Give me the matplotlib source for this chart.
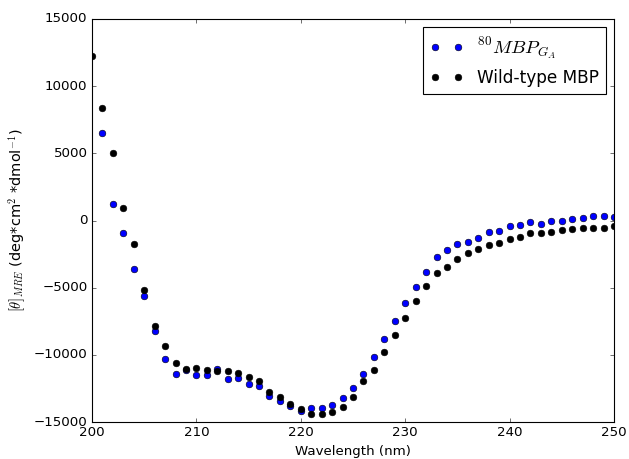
import matplotlib
matplotlib.use("Agg")
import matplotlib.pyplot as plt

plt.style.use("classic")

# Wavelengths (nm)
wl_mut = list(range(201, 251))
wl_wt = list(range(200, 251))

# 80MBP_GA mean residue ellipticity
theta_mut = [6490, 1250, -950, -3630, -5600, -8250, -10290, -11450, -11100,
             -11500, -11500, -11040, -11820, -11700, -12150, -12350, -13070,
             -13420, -13810, -14160, -13960, -13980, -13740, -13220, -12500,
             -11430, -10190, -8850, -7480, -6120, -4950, -3810, -2700, -2200,
             -1750, -1580, -1330, -890, -770, -400, -340, -90, -260, -60, -60,
             130, 210, 340, 340, 280]

# Wild-type MBP mean residue ellipticity
theta_wt = [12270, 8360, 5000, 950, -1750, -5180, -7860, -9350, -10590, -11060,
            -10980, -11130, -11210, -11180, -11360, -11650, -11950, -12790,
            -13120, -13690, -14040, -14390, -14390, -14260, -13860, -13140,
            -11970, -11130, -9770, -8500, -7240, -6020, -4880, -3910, -3440,
            -2870, -2440, -2140, -1800, -1680, -1400, -1210, -950, -950, -830,
            -710, -630, -540, -540, -540, -390]

fig = plt.figure(figsize=(629 / 80, 459 / 80), dpi=80)
ax = fig.add_axes([92 / 629, 1 - 422 / 459, 522 / 629, 403 / 459])

ax.plot(wl_mut, theta_mut, "o", color="b", label=r"$^{80}MBP_{G_A}$")
ax.plot(wl_wt, theta_wt, "o", color="k", label="Wild-type MBP")

ax.set_xlim(200, 250)
ax.set_ylim(-15000, 15000)
ax.set_xlabel("Wavelength (nm)")
ax.set_ylabel(r"$[\theta]_{MRE}$ (deg*cm$^2$ *dmol$^{-1}$)", fontsize=13)

leg = ax.legend(loc="upper right", numpoints=2, prop={"size": 15.2},
                labelspacing=0.5)
leg.get_texts()[0].set_fontsize(17)

fig.savefig("out.png", dpi=80)
